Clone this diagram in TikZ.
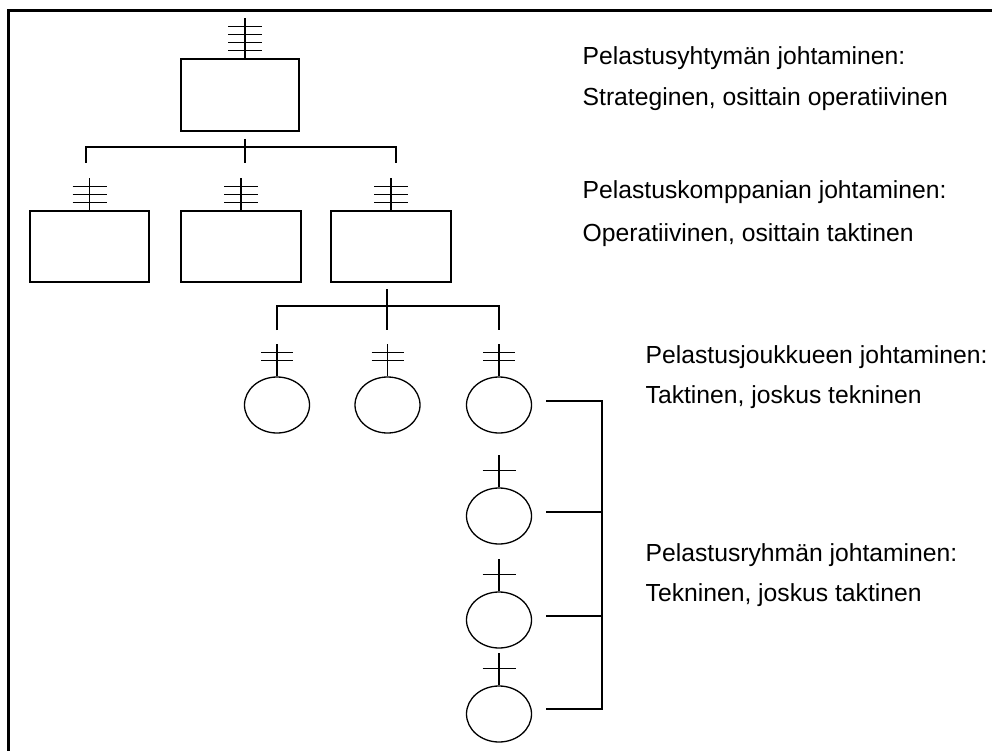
\documentclass[tikz,border=0pt]{standalone}
\usepackage{fontspec}
\setmainfont{Liberation Sans}
\usetikzlibrary{shapes.geometric}
\newcommand\ranks[4]{% #1 anchor, #2 length, #3 offsets, #4 half width
  \draw (#1) -- ++(0,-#2);
  \foreach \o in {#3} {\draw ([shift={(-#4,-\o)}]#1) -- ++(2*#4,0);}
}
\begin{document}
\begin{tikzpicture}[x=1pt,y=-1pt, line width=1.3pt,
  box/.style={draw, rectangle, minimum width=#1, minimum height=71pt, inner sep=0pt},
  ell/.style={draw, ellipse, minimum width=65pt, minimum height=56pt, inner sep=0pt},
  lbl/.style={anchor=base west, inner sep=0pt, font=\fontsize{24.7}{29}\selectfont},
  frame/.style={line width=2.2pt}]
\useasboundingbox (0,0) rectangle (992,751);
% frame
\coordinate (fbl) at (8.5,751);
\coordinate (ftl) at (8.5,10.5);
\coordinate (ftr) at (992,10.5);
\draw[frame] (fbl) -- (ftl) -- (ftr);

% boxes
\node[box=118pt, minimum height=72pt] (top) at (240,95) {};
\node[box=119pt] (b1) at (89.5,246.5) {};
\node[box=120pt] (b2) at (241,246.5) {};
\node[box=120pt] (b3) at (391,246.5) {};

% ellipses
\node[ell] (c1) at (277,405) {};
\node[ell] (c2) at (387.5,405) {};
\node[ell] (c3) at (499,405) {};
\node[ell] (c4) at (499,516) {};
\node[ell] (c5) at (499,620) {};
\node[ell] (c6) at (499,714) {};

% rank symbols
\coordinate (tsym) at ([xshift=5pt]top.north);
\ranks{tsym}{40}{8,16,24,32}{17}
\ranks{b1.north}{32}{8,16,24}{17}
\ranks{b2.north}{32}{8,16,24}{17}
\ranks{b3.north}{32}{8,16,24}{17}
\ranks{c1.north}{32}{16,24}{16}
\ranks{c2.north}{32}{16,24}{16}
\ranks{c3.north}{32}{16,24}{16}
\ranks{c4.north}{32}{17}{16.5}
\ranks{c5.north}{32}{17}{16.5}
\ranks{c6.north}{32}{17}{16.5}

% level 1 connector
\coordinate (j1t) at (245,139);
\coordinate (j1b) at (245,163);
\coordinate (j1l) at (86,163);
\coordinate (j1r) at (396,163);
\coordinate (j1y) at (0,147);
\draw (j1t) -- (j1b);
\draw (j1l) -- (j1l |- j1y) -- (j1r |- j1y) -- (j1r);

% level 2 connector
\coordinate (j2t) at (387,289);
\coordinate (j2b) at (387,330);
\coordinate (j2l) at (277,330);
\coordinate (j2r) at (499,330);
\coordinate (j2y) at (0,306);
\draw (j2t) -- (j2b);
\draw (j2l) -- (j2l |- j2y) -- (j2r |- j2y) -- (j2r);

% right bracket
\coordinate (r3) at (546,401);
\coordinate (r4) at (546,512);
\coordinate (r5) at (546,616);
\coordinate (r6) at (546,709);
\coordinate (rx) at (602,0);
\draw (r3) -- (rx |- r3) -- (rx |- r6) -- (r6);
\draw (r4) -- (rx |- r4);
\draw (r5) -- (rx |- r5);

% labels
\node[lbl] (t1) at (582,65) {Pelastusyhtymän johtaminen:};
\node[lbl] (t2) at (582,106) {Strateginen, osittain operatiivinen};
\node[lbl] (t3) at (582,199) {Pelastuskomppanian johtaminen:};
\node[lbl] (t4) at (582,241) {Operatiivinen, osittain taktinen};
\node[lbl] (t5) at (645,363) {Pelastusjoukkueen johtaminen:};
\node[lbl] (t6) at (645,403) {Taktinen, joskus tekninen};
\node[lbl] (t7) at (645,561) {Pelastusryhmän johtaminen:};
\node[lbl] (t8) at (645,601) {Tekninen, joskus taktinen};
\end{tikzpicture}
\end{document}
